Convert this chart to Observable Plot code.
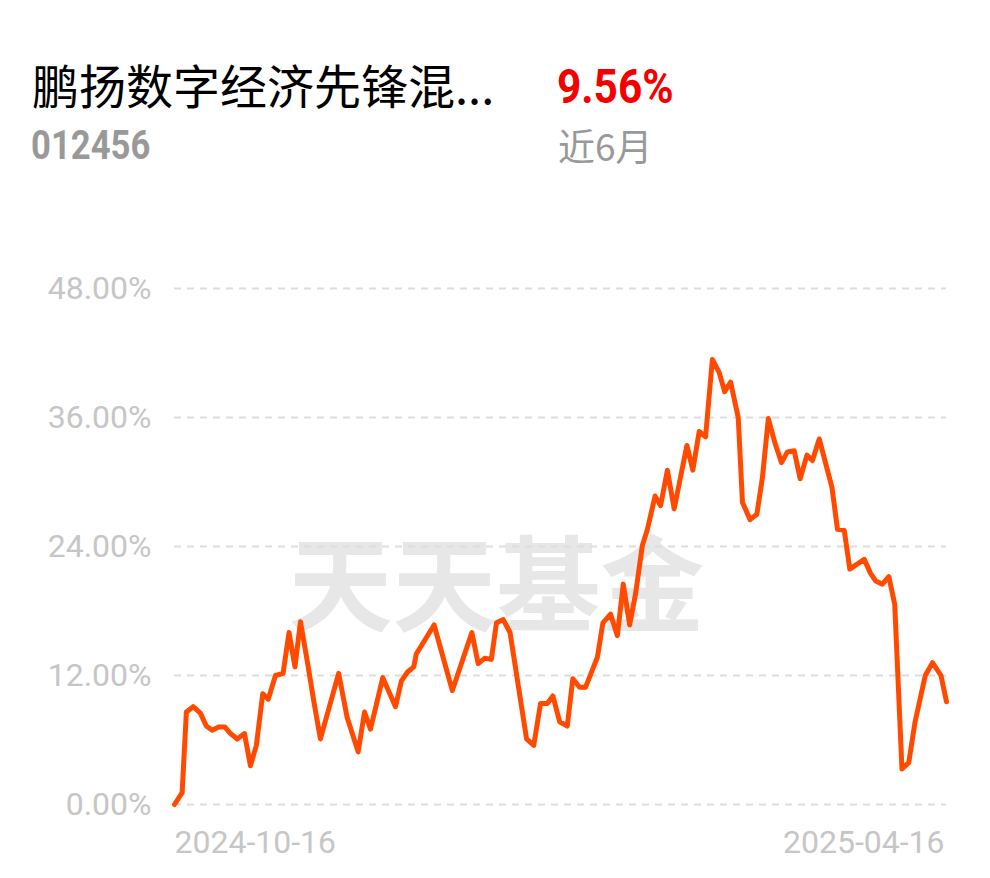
<!DOCTYPE html>
<html><head><meta charset="utf-8">
<script src="https://cdn.jsdelivr.net/npm/d3@7"></script>
<script src="https://cdn.jsdelivr.net/npm/@observablehq/plot@0.6"></script>
<style>
html,body{margin:0;padding:0;background:#fff;}
#wrap{position:relative;width:990px;height:878px;overflow:hidden;background:#fff;}
#header{position:relative;width:990px;height:200px;}
.t{position:absolute;line-height:1;white-space:nowrap;transform-origin:0 0;}
#chart svg{display:block;}
</style></head><body>
<div id="wrap">
<div id="header">
  <span class="t" id="name" style="left:32px;top:60px;font-family:'Noto Sans CJK SC';font-weight:400;font-size:47px;color:#000"></span>
  <span class="t" id="ret" style="left:557px;top:62px;font-family:'Roboto';font-weight:700;font-size:49px;color:#f40000;transform:scaleX(0.865)"></span>
  <span class="t" id="code" style="left:31px;top:125px;font-family:'Roboto';font-weight:700;font-size:41px;color:#999;transform:scaleX(0.845)"></span>
  <span class="t" id="period" style="left:558px;top:127px;font-family:'Noto Sans CJK SC';font-weight:400;font-size:37px;color:#999"></span>
</div>
<div id="chart"></div>
</div>
<script>
const fundName = "鹏扬数字经济先锋混...";
const fundCode = "012456";
const periodReturn = "9.56%";
const periodLabel = "近6月";
const watermark = "天天基金";

// days since 2024-10-16 and cumulative return (%)
const dayOffsets = [0,1.8,2.8,4.4,6.1,7.5,8.9,10.4,11.9,13.2,14.8,16.5,17.9,19.3,20.8,22.1,23.8,25.6,27.0,28.4,29.7,31.4,32.8,34.4,38.7,40.7,43.3,44.8,46.2,49.1,52.1,53.5,54.9,56.4,57.0,61.2,65.5,70.1,71.6,73.1,74.7,75.9,77.5,79.1,83.0,84.7,86.3,87.9,89.2,90.8,92.6,93.9,95.5,96.9,98.5,99.7,101.0,102.8,104.4,105.8,107.3,108.7,110.3,111.5,113.3,114.6,116.2,117.8,120.8,122.2,123.7,125.2,126.8,128.4,129.7,131.1,132.9,133.9,135.7,137.3,138.6,140.0,141.5,143.1,144.5,146.1,147.5,149.1,150.4,152.0,155.0,156.3,157.9,159.2,162.6,164.1,165.3,166.9,168.4,169.8,171.5,173.1,174.6,177.0,178.7,180.7,182];
const returns = [0,1.1,8.6,9.1,8.5,7.3,6.9,7.2,7.2,6.6,6.1,6.6,3.6,5.5,10.3,9.8,12.0,12.2,16.0,12.8,17.0,13.1,9.7,6.1,12.2,8.1,4.9,8.6,7.0,11.8,9.1,11.5,12.3,12.8,14.0,16.7,10.6,16.0,13.1,13.6,13.5,16.9,17.2,16.0,6.1,5.5,9.4,9.4,10.1,7.7,7.3,11.7,10.9,10.9,12.5,13.7,16.9,17.7,15.7,20.5,16.7,19.6,24.1,25.6,28.7,27.8,31.1,27.5,33.4,31.1,34.7,34.2,41.4,40.2,38.4,39.3,36.0,28.1,26.5,27.0,30.4,35.9,33.7,31.8,32.8,32.9,30.3,32.5,32.0,34.0,29.5,25.6,25.5,21.9,22.8,21.5,20.8,20.5,21.2,18.6,3.3,3.9,7.7,12.0,13.2,12.0,9.56];

const yTicks = [0, 12, 24, 36, 48];
const xTicks = [0, 182];
const xTickLabels = ["2024-10-16", "2025-04-16"];

document.getElementById("name").textContent = fundName;
document.getElementById("ret").textContent = periodReturn;
document.getElementById("code").textContent = fundCode;
document.getElementById("period").textContent = periodLabel;

const data = dayOffsets.map((d, i) => ({day: d, ret: returns[i]}));
const axisColor = "#c6c6c6";

const chart = Plot.plot({
  width: 990,
  height: 678,
  marginTop: 88,
  marginBottom: 74,
  marginLeft: 174,
  marginRight: 44,
  style: {background: "#fff", fontFamily: "Roboto, sans-serif", overflow: "visible"},
  x: {domain: [xTicks[0], xTicks[1]], axis: null},
  y: {domain: [yTicks[0], yTicks[yTicks.length - 1]], axis: null},
  marks: [
    Plot.text([watermark], {frameAnchor: "middle", text: d => d, dx: -64, dy: 44, fontSize: 104, fontWeight: "bold", fill: "#e7e7e7", fontFamily: "'Noto Sans CJK SC'"}),
    Plot.gridY(yTicks, {stroke: "#dddddd", strokeOpacity: 1, strokeWidth: 2, strokeDasharray: "7,6"}),
    Plot.axisY(yTicks, {tickSize: 0, tickPadding: 23, tickFormat: d => d.toFixed(2) + "%", fontSize: 32, color: axisColor, label: null}),
    Plot.axisX([xTicks[0]], {tickSize: 0, tickPadding: 26, textAnchor: "start", tickFormat: () => xTickLabels[0], fontSize: 32, color: axisColor, label: null}),
    Plot.axisX([xTicks[1]], {tickSize: 0, tickPadding: 26, textAnchor: "end", dx: -2, tickFormat: () => xTickLabels[1], fontSize: 32, color: axisColor, label: null}),
    Plot.lineY(data, {x: "day", y: "ret", stroke: "#ff4a00", strokeWidth: 5, strokeLinejoin: "round", strokeLinecap: "round"})
  ]
});
document.getElementById("chart").appendChild(chart);
</script>
</body></html>
